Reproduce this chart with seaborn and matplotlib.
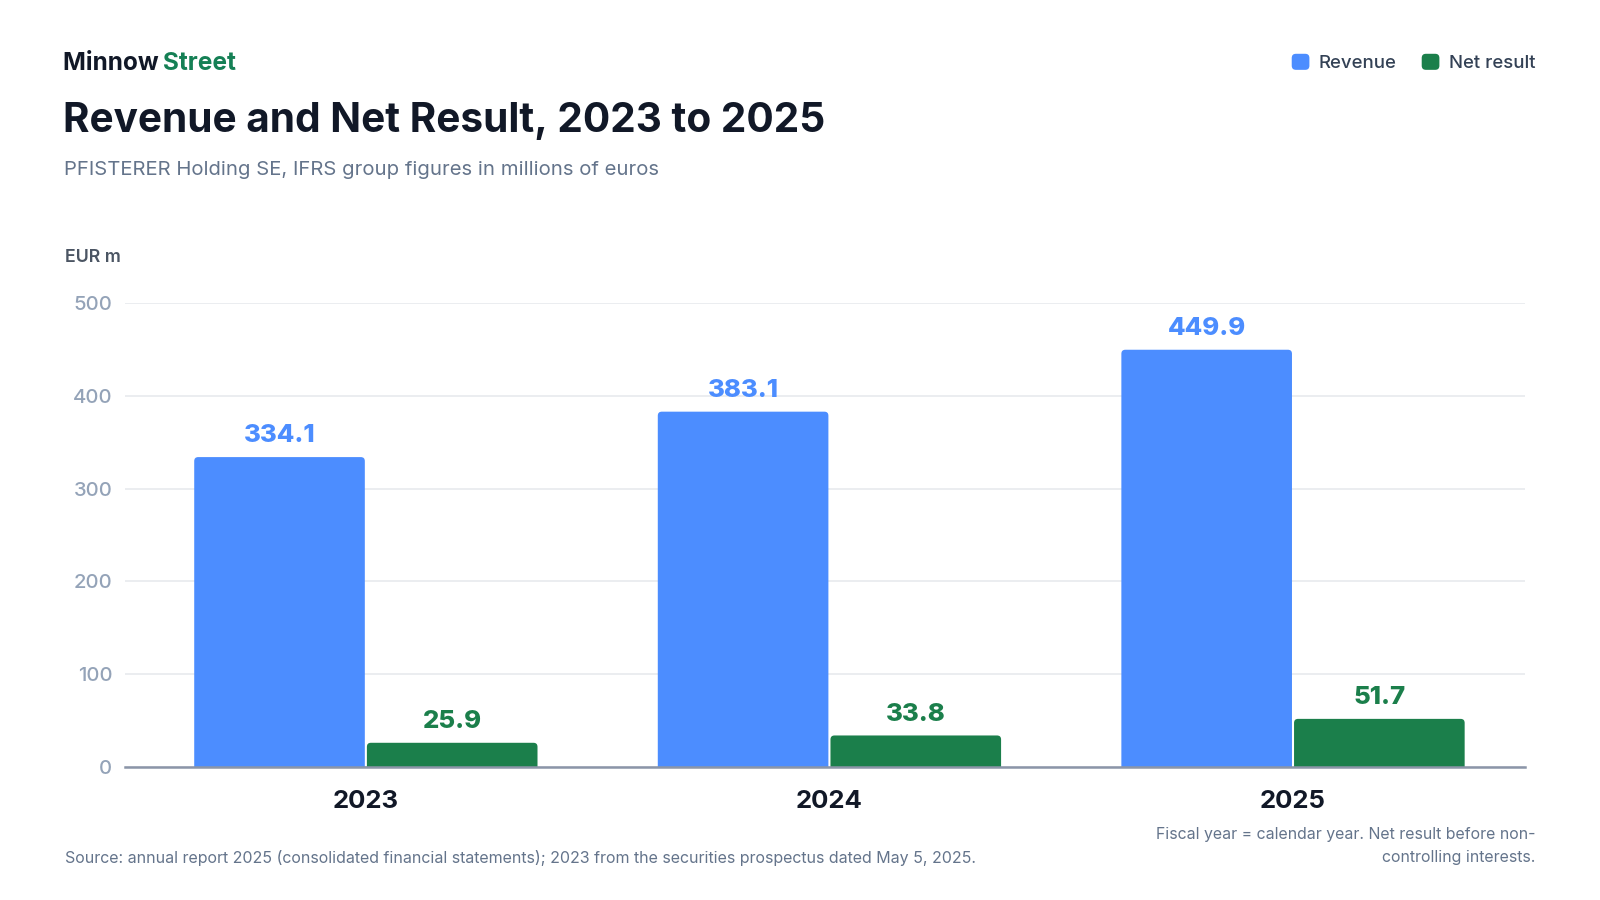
import seaborn as sns
import matplotlib.pyplot as plt
import pandas as pd
from matplotlib.patches import FancyBboxPatch, Patch
from matplotlib.legend_handler import HandlerPatch

years = ['2023', '2024', '2025']
revenue = [334.1, 383.1, 449.9]
net_result = [25.9, 33.8, 51.7]
series = ['Revenue', 'Net result']
y_ticks = [0, 100, 200, 300, 400, 500]

blue = '#4C8DFF'
green = '#1B7F4B'
dark = '#111827'
grey = '#64748B'

df = pd.DataFrame({
    'year': years * 2,
    'value': revenue + net_result,
    'series': [series[0]] * 3 + [series[1]] * 3,
})

sns.set_style('white')
plt.rcParams['font.family'] = ['Inter', 'DejaVu Sans']

fig = plt.figure(figsize=(16, 9), dpi=100)
ax = fig.add_axes([0.078, 0.148, 0.875, 0.515])

sns.barplot(data=df, x='year', y='value', hue='series', palette=[blue, green],
            width=0.745, gap=0.012, saturation=1, ax=ax)

ax.set_xlim(-0.52, 2.5)
ax.set_ylim(0, 500)
ax.set_yticks(y_ticks)
ax.grid(axis='y', color='#E8EAEE', linewidth=1.2)
ax.set_axisbelow(True)
for s in ['top', 'right', 'left']:
    ax.spines[s].set_visible(False)
ax.spines['bottom'].set_color('#8B95A8')
ax.spines['bottom'].set_linewidth(1.8)
ax.spines['bottom'].set_zorder(5)
ax.tick_params(axis='y', length=0, labelsize=14.6, labelcolor='#94A3B8', pad=9)
ax.tick_params(axis='x', length=0, labelsize=18.5, labelcolor=dark, pad=17)
for lbl in ax.get_yticklabels():
    lbl.set_fontweight('medium')
for lbl in ax.get_xticklabels():
    lbl.set_fontweight('bold')
ax.set_xlabel('')
ax.set_ylabel('')

# value labels above bars
for cont, col in zip(ax.containers, [blue, green]):
    ax.bar_label(cont, fmt='%.1f', padding=7, color=col, fontsize=18.5,
                 fontweight='heavy')

# legend top right, small rounded squares
ax.get_legend().remove()
handles = [Patch(facecolor=c, edgecolor='none') for c in [blue, green]]


def rounded_square(legend, orig_handle, xdescent, ydescent, width, height, fontsize):
    return FancyBboxPatch((-xdescent, -ydescent), width, height,
                          boxstyle='round,pad=0,rounding_size=3')


fig.legend(handles, series, loc='center right', bbox_to_anchor=(0.9595, 0.930),
           ncol=2, frameon=False, handlelength=0.95, handleheight=0.95,
           handletextpad=0.5, columnspacing=1.35, borderpad=0, borderaxespad=0,
           labelcolor='#334155', prop={'weight': 'medium', 'size': 13.4},
           handler_map={Patch: HandlerPatch(patch_func=rounded_square)})

# rounded bar tops (bottom corners hidden below the baseline)
fig.canvas.draw()
x_per_px = 3.02 / ax.get_window_extent().width
y_per_px = 500 / ax.get_window_extent().height
r = 4 * x_per_px
aspect = y_per_px / x_per_px
for p in list(ax.patches):
    x, w, h = p.get_x(), p.get_width(), p.get_height()
    fc = p.get_facecolor()
    p.set_visible(False)
    ax.add_patch(FancyBboxPatch((x, -5 * y_per_px), w, h + 5 * y_per_px,
                                boxstyle=f'round,pad=0,rounding_size={r}',
                                mutation_aspect=aspect, fc=fc, ec='none',
                                zorder=2))

# header texts
t = fig.text(0.0395, 0.930, 'Minnow ', fontsize=17.6, fontweight='bold',
             color=dark, va='center')
fig.canvas.draw()
bb = t.get_window_extent().transformed(fig.transFigure.inverted())
fig.text(bb.x1 - 0.001, 0.930, 'Street', fontsize=17.6, fontweight='bold',
         color='#158055', va='center')
fig.text(0.0392, 0.865, 'Revenue and Net Result, 2023 to 2025', fontsize=29.2,
         fontweight='bold', color=dark, va='center')
fig.text(0.0400, 0.811, 'PFISTERER Holding SE, IFRS group figures in millions of euros',
         fontsize=14.6, color=grey, va='center')
fig.text(0.0405, 0.714, 'EUR m', fontsize=12.8, fontweight='semibold',
         color='#4B5563', va='center')

# footnotes
fig.text(0.0405, 0.047, 'Source: annual report 2025 (consolidated financial statements); '
         '2023 from the securities prospectus dated May 5, 2025.',
         fontsize=11.5, color=grey, va='center')
fig.text(0.9595, 0.073, 'Fiscal year = calendar year. Net result before non-',
         fontsize=11.45, color=grey, va='center', ha='right')
fig.text(0.9595, 0.047, 'controlling interests.',
         fontsize=11.45, color=grey, va='center', ha='right')

fig.savefig('out.png', dpi=100, facecolor='white')
